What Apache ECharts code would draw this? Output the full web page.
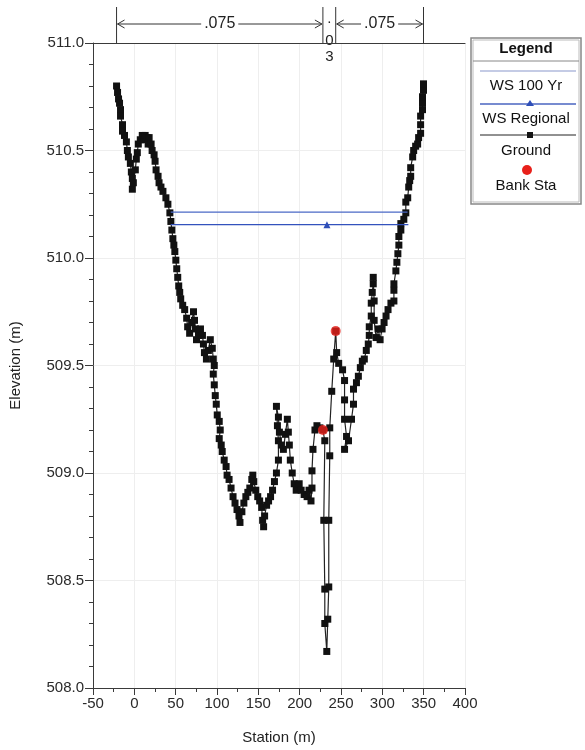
<!DOCTYPE html>
<html><head><meta charset="utf-8">
<script src="https://cdn.jsdelivr.net/npm/echarts@6/dist/echarts.min.js"></script>
<style>html,body{margin:0;padding:0;background:#fff}#c{width:585px;height:750px}</style>
</head><body><div id="c"></div>
<script>
const groundStation = [-21.5,-20.3,-19.1,-17.9,-16.7,-16.7,-14.3,-14.3,-11.9,-9.6,-8.4,-7.2,-4.8,-3.6,-2.4,-2.4,-1.2,1.2,2.4,3.6,4.8,7.2,9.6,11.9,13.1,15.5,16.7,17.9,20.3,21.5,23.9,25.1,26.3,28.7,29.9,32.2,34.6,38.2,40.6,43.0,44.2,45.4,46.6,47.8,49.0,50.2,51.3,52.5,53.7,54.9,56.1,58.5,60.9,63.3,64.5,66.9,69.3,71.6,72.8,74.0,75.2,77.6,80.0,82.4,83.6,84.8,87.2,89.6,91.9,94.3,95.5,96.7,95.5,96.7,97.9,99.1,100.3,102.7,103.9,102.7,105.1,106.3,108.7,111.0,112.2,114.6,117.0,119.4,121.8,124.2,126.6,127.8,130.1,132.5,134.9,137.3,139.7,142.1,143.3,144.5,146.9,149.3,151.6,154.0,155.2,156.4,157.6,160.0,162.4,164.8,167.2,169.5,171.9,174.3,174.3,173.1,171.9,174.3,175.5,177.9,180.3,182.7,185.1,186.3,187.5,188.7,191.0,193.4,195.8,199.4,201.8,205.4,209.0,211.3,213.7,214.9,214.9,216.1,218.5,220.9,224.5,228.1,230.4,229.2,230.4,230.4,232.8,234.0,235.2,235.2,236.4,236.4,238.8,241.2,243.6,244.8,247.2,251.9,254.3,254.3,254.3,256.7,254.3,259.1,262.7,265.1,265.1,268.7,271.0,273.4,275.8,278.2,280.6,283.0,284.2,284.2,286.6,286.6,287.8,289.0,289.0,290.1,290.1,292.5,294.9,297.3,299.7,302.1,304.5,306.9,310.4,314.0,314.0,314.0,316.4,317.6,318.8,320.0,320.0,322.4,322.4,326.0,328.4,328.4,330.7,331.9,333.1,334.3,334.3,336.7,337.9,340.3,342.7,343.9,346.3,346.3,346.3,348.6,348.6,348.6,349.8,349.8];
const groundElev = [510.80,510.77,510.74,510.72,510.69,510.66,510.62,510.59,510.57,510.54,510.50,510.47,510.44,510.40,510.37,510.32,510.35,510.41,510.46,510.49,510.53,510.55,510.57,510.55,510.57,510.56,510.53,510.56,510.53,510.50,510.48,510.45,510.41,510.38,510.35,510.33,510.31,510.28,510.25,510.21,510.17,510.13,510.09,510.06,510.03,509.99,509.95,509.91,509.87,509.84,509.81,509.78,509.76,509.72,509.68,509.65,509.70,509.75,509.71,509.67,509.62,509.64,509.67,509.64,509.60,509.56,509.53,509.57,509.62,509.58,509.53,509.50,509.46,509.41,509.36,509.32,509.27,509.24,509.20,509.16,509.13,509.10,509.06,509.03,508.99,508.97,508.93,508.89,508.86,508.83,508.80,508.77,508.82,508.86,508.89,508.91,508.93,508.97,508.99,508.96,508.92,508.89,508.87,508.84,508.78,508.75,508.80,508.85,508.87,508.89,508.92,508.96,509.00,509.06,509.15,509.22,509.31,509.26,509.19,509.13,509.11,509.18,509.25,509.19,509.13,509.06,509.00,508.95,508.92,508.95,508.92,508.90,508.89,508.92,508.87,508.93,509.01,509.11,509.20,509.22,509.21,509.20,509.15,508.78,508.46,508.30,508.17,508.32,508.47,508.78,509.08,509.21,509.38,509.53,509.66,509.56,509.51,509.48,509.43,509.34,509.25,509.17,509.11,509.15,509.25,509.32,509.39,509.42,509.45,509.49,509.52,509.53,509.57,509.60,509.64,509.68,509.73,509.79,509.84,509.88,509.91,509.80,509.71,509.63,509.67,509.62,509.67,509.70,509.73,509.76,509.79,509.80,509.85,509.88,509.94,509.98,510.02,510.06,510.10,510.13,510.16,510.18,510.21,510.26,510.28,510.33,510.36,510.38,510.42,510.47,510.50,510.52,510.53,510.56,510.58,510.62,510.66,510.69,510.72,510.75,510.78,510.81];
const bankStation = [228.1, 243.6];
const bankElev = [509.20, 509.66];
const ws100Station = [44.0, 330.5];
const ws100Elev = [510.213, 510.213];
const wsRegStation = [44.0, 233.0, 331.5];
const wsRegElev = [510.155, 510.155, 510.155];
const manningBreaks = [-21.5, 228.1, 243.6, 349.8];
const manningValues = ['.075', '.03', '.075'];
const legendLabels = ['WS 100 Yr', 'WS Regional', 'Ground', 'Bank Sta'];

const FONT = '"Liberation Sans", Arial, sans-serif';
const zip = (a, b) => a.map((v, i) => [v, b[i]]);

const chart = echarts.init(document.getElementById('c'), null, {renderer: 'canvas'});
const axisColor = '#3a3a3a';
chart.setOption({
  animation: false,
  backgroundColor: '#fff',
  grid: {left: 88, right: 120, top: 43, bottom: 62, containLabel: false},
  xAxis: [{
    type: 'value', min: -50, max: 400, interval: 50,
    name: 'Station (m)', nameLocation: 'middle', nameGap: 42,
    nameTextStyle: {fontFamily: FONT, fontSize: 15, color: '#222'},
    axisLine: {show: true, onZero: false, lineStyle: {color: axisColor, width: 1}},
    axisTick: {show: true, length: 7, lineStyle: {color: axisColor}},
    minorTick: {show: true, splitNumber: 2, length: 4, lineStyle: {color: axisColor}},
    axisLabel: {fontFamily: FONT, fontSize: 15, color: '#2a2a2a', margin: 8},
    splitLine: {show: true, lineStyle: {color: '#eeeeee', width: 1}}
  }, {
    type: 'value', min: -50, max: 400, position: 'top',
    axisLine: {show: true, onZero: false, lineStyle: {color: axisColor, width: 1}},
    axisTick: {show: false}, axisLabel: {show: false}, splitLine: {show: false}
  }],
  yAxis: {
    type: 'value', min: 508, max: 511, interval: 0.5,
    name: 'Elevation (m)', nameLocation: 'middle', nameGap: 70,
    nameTextStyle: {fontFamily: FONT, fontSize: 15, color: '#222'},
    axisLine: {show: true, onZero: false, lineStyle: {color: axisColor, width: 1}},
    axisTick: {show: true, length: 8, lineStyle: {color: axisColor}},
    minorTick: {show: true, splitNumber: 5, length: 4, lineStyle: {color: axisColor}},
    axisLabel: {fontFamily: FONT, fontSize: 15, color: '#2a2a2a', margin: 9, formatter: v => v.toFixed(1)},
    splitLine: {show: true, lineStyle: {color: '#eeeeee', width: 1}}
  },
  series: [
    {
      name: 'Ground', type: 'line', data: zip(groundStation, groundElev),
      symbol: 'rect', symbolSize: 7, showAllSymbol: true,
      itemStyle: {color: '#111'}, lineStyle: {color: '#222', width: 1.2}, z: 3
    },
    {
      name: 'WS 100 Yr', type: 'line', data: zip(ws100Station, ws100Elev),
      symbol: 'none', lineStyle: {color: '#4a68c6', width: 1.3}, z: 4
    },
    {
      name: 'WS Regional', type: 'line',
      data: zip(wsRegStation, wsRegElev).map((p, i) => ({value: p, symbol: i === 1 ? 'triangle' : 'none'})),
      symbolSize: 7, itemStyle: {color: '#2f4fb8'}, lineStyle: {color: '#3352bd', width: 1.3}, z: 4
    },
    {
      name: 'Bank Sta', type: 'scatter', data: zip(bankStation, bankElev),
      symbol: 'circle', symbolSize: 10, itemStyle: {color: '#e8201a'}, z: 5
    }
  ]
});

// Manning's n annotations and legend
const px = manningBreaks.map(s => chart.convertToPixel({xAxisIndex: 0}, s));
const g = [];
const lineStyle = {stroke: '#333', lineWidth: 1};
px.forEach(x => g.push({type: 'line', shape: {x1: x, y1: 7, x2: x, y2: 43}, style: lineStyle, silent: true}));
function arrowSeg(x1, x2, label) {
  const y = 24;
  g.push({type: 'line', shape: {x1: x1 + 1, y1: y, x2: x2 - 1, y2: y}, style: lineStyle});
  g.push({type: 'polyline', shape: {points: [[x1 + 8, y - 4], [x1 + 1, y], [x1 + 8, y + 4]]}, style: lineStyle});
  g.push({type: 'polyline', shape: {points: [[x2 - 8, y - 4], [x2 - 1, y], [x2 - 8, y + 4]]}, style: lineStyle});
  g.push({type: 'text', x: (x1 + x2) / 2, y: y, style: {text: label, fill: '#222', font: '16px ' + FONT, align: 'center', verticalAlign: 'middle', backgroundColor: '#fff', padding: [0, 3]}});
}
arrowSeg(px[0], px[1], manningValues[0]);
arrowSeg(px[2], px[3], manningValues[2]);
const midX = (px[1] + px[2]) / 2;
manningValues[1].split('').forEach((ch, i) => {
  g.push({type: 'text', x: midX, y: [19, 41, 57][i], style: {text: ch, fill: '#222', font: '15px ' + FONT, align: 'center', verticalAlign: 'middle'}});
});

// Legend box
const L = {x: 471, y: 38, w: 110, h: 166};
const cx = L.x + L.w / 2;
g.push({type: 'rect', shape: {x: L.x, y: L.y, width: L.w, height: L.h}, style: {fill: '#fff', stroke: '#888', lineWidth: 1.5}});
g.push({type: 'rect', shape: {x: L.x + 2, y: L.y + 2, width: L.w - 4, height: L.h - 4}, style: {fill: 'none', stroke: '#bbb', lineWidth: 1}});
g.push({type: 'text', x: cx, y: 49, style: {text: 'Legend', fill: '#111', font: 'bold 15px ' + FONT, align: 'center', verticalAlign: 'middle'}});
g.push({type: 'line', shape: {x1: L.x + 2, y1: 61, x2: L.x + L.w - 2, y2: 61}, style: {stroke: '#888', lineWidth: 1}});
const lx1 = L.x + 9, lx2 = L.x + L.w - 5;
g.push({type: 'line', shape: {x1: lx1, y1: 71, x2: lx2, y2: 71}, style: {stroke: '#8a98cc', lineWidth: 1.2}});
g.push({type: 'text', x: cx, y: 86, style: {text: legendLabels[0], fill: '#111', font: '15px ' + FONT, align: 'center', verticalAlign: 'middle'}});
g.push({type: 'line', shape: {x1: lx1, y1: 104, x2: lx2, y2: 104}, style: {stroke: '#4a64c0', lineWidth: 1.3}});
g.push({type: 'polygon', shape: {points: [[cx + 4, 100], [cx, 106], [cx + 8, 106]]}, style: {fill: '#2f4fb8'}});
g.push({type: 'text', x: cx, y: 119, style: {text: legendLabels[1], fill: '#111', font: '15px ' + FONT, align: 'center', verticalAlign: 'middle'}});
g.push({type: 'line', shape: {x1: lx1, y1: 135, x2: lx2, y2: 135}, style: {stroke: '#222', lineWidth: 1}});
g.push({type: 'rect', shape: {x: cx + 1, y: 132, width: 6, height: 6}, style: {fill: '#141414'}});
g.push({type: 'text', x: cx, y: 151, style: {text: legendLabels[2], fill: '#111', font: '15px ' + FONT, align: 'center', verticalAlign: 'middle'}});
g.push({type: 'circle', shape: {cx: cx + 1, cy: 170, r: 5}, style: {fill: '#e8201a'}});
g.push({type: 'text', x: cx, y: 186, style: {text: legendLabels[3], fill: '#111', font: '15px ' + FONT, align: 'center', verticalAlign: 'middle'}});

chart.setOption({graphic: {elements: g}});
</script>
</body></html>
